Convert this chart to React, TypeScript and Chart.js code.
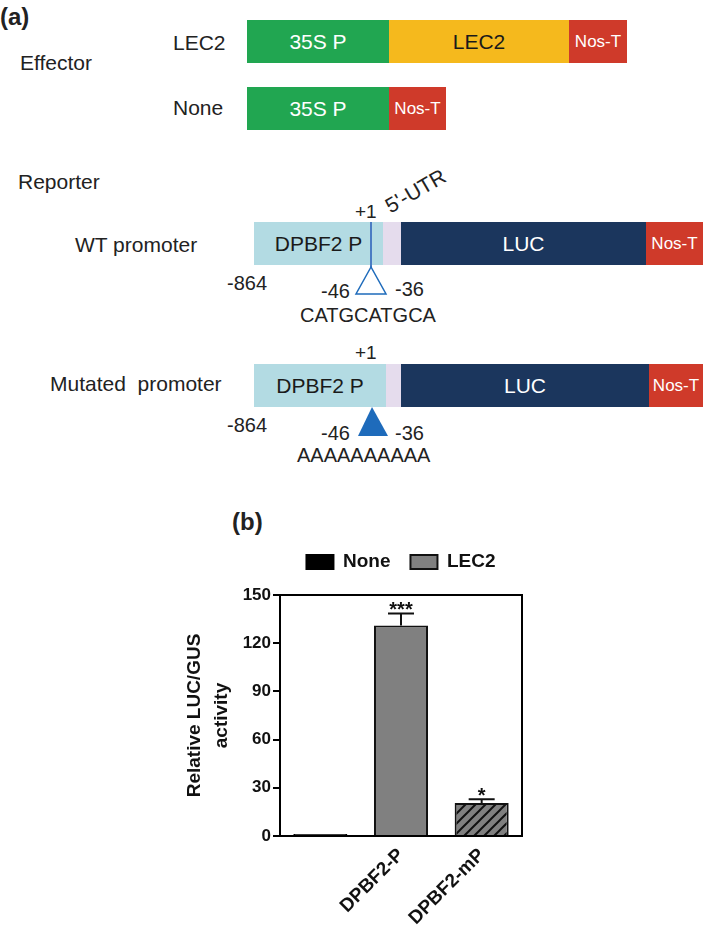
import React, { useEffect, useRef } from "react";
import { Chart, registerables } from "chart.js";

Chart.register(...registerables);

// ---- chart data (panel b) ----
const categories = ["", "DPBF2-P", "DPBF2-mP"];
const noneValues: (number | null)[] = [1.2, null, null];
const lec2Values: (number | null)[] = [null, 131, 20.5];
const errorValues = [0, 7.5, 2.3];
const starLabels = ["", "***", "*"];
const yTicks = [0, 30, 60, 90, 120, 150];
const legendNames = ["None", "LEC2"];

const FONT = "Arial, 'Liberation Sans', sans-serif";

type TProps = { x: number; y: number; size: number; text: string; color?: string; bold?: boolean; center?: boolean; w?: number };
const T = ({ x, y, size, text, color = "#222", bold = false, center = false, w = 0 }: TProps) => (
  <div
    style={{
      position: "absolute",
      left: center ? x - w / 2 : x,
      width: center ? w : undefined,
      textAlign: center ? "center" : "left",
      top: y - size * 0.59,
      fontSize: size,
      lineHeight: `${size * 1.2}px`,
      fontFamily: FONT,
      fontWeight: bold ? 700 : 400,
      color,
      whiteSpace: "pre",
    }}
  >
    {text}
  </div>
);

type BProps = { x1: number; x2: number; y1: number; y2: number; bg: string; text?: string; color?: string; size?: number };
const Box = ({ x1, x2, y1, y2, bg, text = "", color = "#fff", size = 21 }: BProps) => (
  <div
    style={{
      position: "absolute",
      left: x1,
      top: y1,
      width: x2 - x1,
      height: y2 - y1,
      background: bg,
      color,
      fontFamily: FONT,
      fontSize: size,
      display: "flex",
      alignItems: "center",
      justifyContent: "center",
      whiteSpace: "pre",
    }}
  >
    {text}
  </div>
);

const GREEN = "#21a651";
const YELLOW = "#f5b91d";
const RED = "#cf3a2a";
const LBLUE = "#b3dbe3";
const LAV = "#e5dced";
const NAVY = "#1b365d";
const LINEBLUE = "#4a7cc3";
const TRIBLUE = "#1e6bbb";

const Diagram = () => (
  <>
    <T x={0} y={17} size={24} bold text="(a)" />
    <T x={20} y={62} size={21} text="Effector" />
    <T x={173} y={42} size={21} text="LEC2" />
    <T x={173} y={107} size={21} text="None" />
    <Box x1={247} x2={389} y1={20} y2={63} bg={GREEN} text="35S P" />
    <Box x1={389} x2={569} y1={20} y2={63} bg={YELLOW} text="LEC2" color="#1a1a1a" />
    <Box x1={569} x2={627} y1={20} y2={63} bg={RED} text="Nos-T" size={17} />
    <Box x1={247} x2={389} y1={87} y2={130} bg={GREEN} text="35S P" />
    <Box x1={389} x2={446} y1={87} y2={130} bg={RED} text="Nos-T" size={17} />

    <T x={18} y={181} size={21} text="Reporter" />
    {/* WT promoter */}
    <T x={75} y={244} size={21} text="WT promoter" />
    <Box x1={254} x2={383} y1={222} y2={265} bg={LBLUE} text="DPBF2 P" color="#1a1a1a" />
    <Box x1={383} x2={401} y1={222} y2={265} bg={LAV} />
    <Box x1={401} x2={646} y1={222} y2={265} bg={NAVY} text="LUC" />
    <Box x1={646} x2={703} y1={222} y2={265} bg={RED} text="Nos-T" size={17} />
    <T x={355} y={212} size={19} text="+1" />
    <div
      style={{
        position: "absolute",
        left: 393,
        top: 194,
        fontFamily: FONT,
        fontSize: 21,
        lineHeight: "24px",
        color: "#222",
        whiteSpace: "pre",
        transform: "rotate(-30deg)",
        transformOrigin: "0% 100%",
      }}
    >
      5'-UTR
    </div>
    <svg style={{ position: "absolute", left: 0, top: 0 }} width={709} height={470}>
      <line x1={371} y1={222} x2={371} y2={267} stroke={LINEBLUE} strokeWidth={2} />
      <polygon points="371,267 356,294 386,294" fill="#fff" stroke={TRIBLUE} strokeWidth={1.5} />
      <line x1={372} y1={364} x2={372} y2={407} stroke={LINEBLUE} strokeWidth={2} />
      <polygon points="372,407 358,436 388,436" fill={TRIBLUE} />
    </svg>
    <T x={227} y={283} size={20} text="-864" />
    <T x={321} y={291} size={20} text="-46" />
    <T x={395} y={289} size={20} text="-36" />
    <T x={300} y={315} size={20} text="CATGCATGCA" />

    {/* Mutated promoter */}
    <T x={50} y={383} size={21} text="Mutated  promoter" />
    <Box x1={254} x2={386} y1={364} y2={407} bg={LBLUE} text="DPBF2 P" color="#1a1a1a" />
    <Box x1={386} x2={401} y1={364} y2={407} bg={LAV} />
    <Box x1={401} x2={649} y1={364} y2={407} bg={NAVY} text="LUC" />
    <Box x1={649} x2={703} y1={364} y2={407} bg={RED} text="Nos-T" size={17} />
    <T x={355} y={353} size={19} text="+1" />
    <T x={227} y={425} size={20} text="-864" />
    <T x={321} y={433} size={20} text="-46" />
    <T x={395} y={433} size={20} text="-36" />
    <T x={297} y={455} size={20} text="AAAAAAAAAA" />

    <T x={232} y={522} size={24} bold text="(b)" />
  </>
);

const App = () => {
  const ref = useRef<HTMLCanvasElement | null>(null);

  useEffect(() => {
    const canvas = ref.current;
    if (!canvas) return;

    // hatch pattern for the mutated promoter bar
    const pc = document.createElement("canvas");
    pc.width = 10;
    pc.height = 10;
    const p = pc.getContext("2d")!;
    p.fillStyle = "#808080";
    p.fillRect(0, 0, 10, 10);
    p.strokeStyle = "#111";
    p.lineWidth = 2;
    p.beginPath();
    p.moveTo(-2, 12);
    p.lineTo(12, -2);
    p.moveTo(-7, 7);
    p.lineTo(7, -7);
    p.moveTo(3, 17);
    p.lineTo(17, 3);
    p.stroke();
    const pattern = canvas.getContext("2d")!.createPattern(pc, "repeat")!;

    const legendSpacer = {
      id: "legendSpacer",
      beforeInit(chart: any) {
        const lg = chart.legend;
        if (!lg) return;
        const fit = lg.fit;
        lg.fit = function () {
          fit.call(this);
          this.height += 13.5;
        };
      },
    };

    const frame = {
      id: "frame",
      afterDraw(chart: any) {
        const { ctx, chartArea: a } = chart;
        ctx.save();
        ctx.strokeStyle = "#000";
        ctx.lineWidth = 2;
        ctx.strokeRect(a.left, a.top, a.right - a.left, a.bottom - a.top);
        ctx.restore();
      },
    };

    const errorBars = {
      id: "errorBars",
      afterDatasetsDraw(chart: any) {
        const { ctx } = chart;
        const xs = chart.scales.x;
        const ys = chart.scales.y;
        ctx.save();
        ctx.strokeStyle = "#111";
        ctx.lineWidth = 2;
        categories.forEach((_, i) => {
          const v = noneValues[i] ?? lec2Values[i];
          if (v == null) return;
          const x = xs.getPixelForValue(i);
          const yv = ys.getPixelForValue(v);
          const yt = ys.getPixelForValue(v + errorValues[i]);
          if (errorValues[i] > 0) {
            ctx.beginPath();
            ctx.moveTo(x, yv);
            ctx.lineTo(x, yt);
            ctx.moveTo(x - 13, yt);
            ctx.lineTo(x + 13, yt);
            ctx.stroke();
          }
          if (starLabels[i]) {
            ctx.fillStyle = "#111";
            ctx.font = `bold 20px ${FONT}`;
            ctx.textAlign = "center";
            ctx.textBaseline = "alphabetic";
            ctx.fillText(starLabels[i], x, yt + 3);
          }
        });
        ctx.restore();
      },
    };

    const chart = new Chart(canvas, {
      type: "bar",
      data: {
        labels: categories,
        datasets: [
          {
            label: legendNames[0],
            data: noneValues,
            backgroundColor: "#000",
            borderColor: "#000",
            borderWidth: 2,
          },
          {
            label: legendNames[1],
            data: lec2Values,
            backgroundColor: (c: any) => (c.dataIndex === 2 ? pattern : "#808080"),
            borderColor: "#111",
            borderWidth: 2,
          },
        ],
      },
      options: {
        animation: false,
        responsive: false,
        devicePixelRatio: 1,
        layout: { padding: { top: 62.5, left: 0, right: 28, bottom: 0 } },
        datasets: {
          bar: { grouped: false, barPercentage: 0.67, categoryPercentage: 1 },
        } as any,
        plugins: {
          tooltip: { enabled: false },
          legend: {
            position: "top",
            fullSize: false,
            labels: {
              boxWidth: 27,
              boxHeight: 14,
              padding: 20,
              color: "#111",
              font: { family: FONT, size: 19, weight: "bold" },
            },
          },
        },
        scales: {
          x: {
            afterFit: (s: any) => {
              s.height = 90;
            },
            grid: { display: false },
            border: { display: false },
            ticks: {
              color: "#111",
              font: { family: FONT, size: 19, weight: "bold" },
              minRotation: 45,
              maxRotation: 45,
              padding: 0,
            },
          },
          y: {
            min: 0,
            max: 150,
            afterFit: (s: any) => {
              s.width = 150;
            },
            afterBuildTicks: (s: any) => {
              s.ticks = yTicks.map((v) => ({ value: v }));
            },
            grid: { drawOnChartArea: false, drawTicks: true, tickLength: 7, color: "#000", lineWidth: 2 },
            border: { display: false },
            ticks: {
              color: "#111",
              font: { family: FONT, size: 17, weight: "bold" },
              padding: 2,
            },
            title: {
              display: true,
              text: ["Relative LUC/GUS", "activity"],
              color: "#111",
              font: { family: FONT, size: 19, weight: "bold", lineHeight: 1.4 },
              padding: { top: 51.7, bottom: 0 },
            },
          },
        },
      },
      plugins: [legendSpacer, frame, errorBars],
    });

    return () => chart.destroy();
  }, []);

  return (
    <div style={{ position: "absolute", left: 0, top: 0, width: 709, height: 926, background: "#fff", overflow: "hidden" }}>
      <Diagram />
      <canvas
        ref={ref}
        width={420}
        height={456}
        style={{ position: "absolute", left: 130, top: 470, width: 420, height: 456 }}
      />
    </div>
  );
};

export default App;
